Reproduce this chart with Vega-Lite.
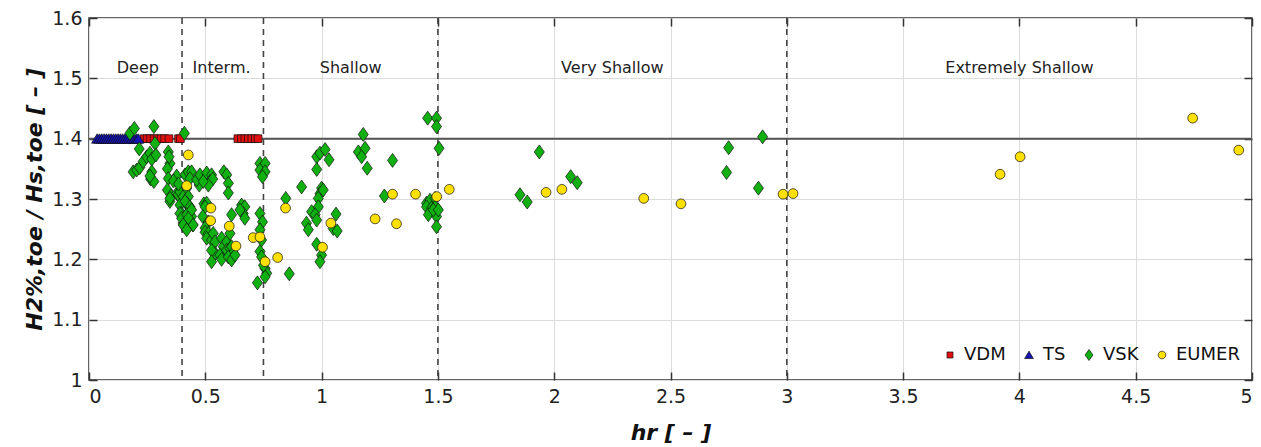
{
  "$schema": "https://vega.github.io/schema/vega-lite/v6.json",
  "width": 1163,
  "height": 362,
  "autosize": {"type": "none"},
  "padding": {"left": 89, "top": 18, "right": 9, "bottom": 67},
  "background": "white",
  "config": {
    "font": "DejaVu Sans",
    "view": {"stroke": "#333", "strokeWidth": 1.5}
  },
  "datasets": {
    "pts": [
      {"x":0.236,"y":1.4,"s":"VDM"},{"x":0.25,"y":1.4,"s":"VDM"},{"x":0.265,"y":1.4,"s":"VDM"},{"x":0.28,"y":1.4,"s":"VDM"},{"x":0.295,"y":1.4,"s":"VDM"},{"x":0.31,"y":1.4,"s":"VDM"},{"x":0.325,"y":1.4,"s":"VDM"},{"x":0.344,"y":1.4,"s":"VDM"},{"x":0.385,"y":1.4,"s":"VDM"},{"x":0.393,"y":1.4,"s":"VDM"},{"x":0.64,"y":1.4,"s":"VDM"},{"x":0.655,"y":1.4,"s":"VDM"},{"x":0.67,"y":1.4,"s":"VDM"},{"x":0.685,"y":1.4,"s":"VDM"},{"x":0.7,"y":1.4,"s":"VDM"},{"x":0.715,"y":1.4,"s":"VDM"},{"x":0.727,"y":1.4,"s":"VDM"},
      {"x":0.035,"y":1.4,"s":"TS"},{"x":0.045,"y":1.4,"s":"TS"},{"x":0.055,"y":1.4,"s":"TS"},{"x":0.065,"y":1.4,"s":"TS"},{"x":0.075,"y":1.4,"s":"TS"},{"x":0.085,"y":1.4,"s":"TS"},{"x":0.095,"y":1.4,"s":"TS"},{"x":0.105,"y":1.4,"s":"TS"},{"x":0.115,"y":1.4,"s":"TS"},{"x":0.125,"y":1.4,"s":"TS"},{"x":0.135,"y":1.4,"s":"TS"},{"x":0.145,"y":1.4,"s":"TS"},{"x":0.155,"y":1.4,"s":"TS"},{"x":0.165,"y":1.4,"s":"TS"},{"x":0.175,"y":1.4,"s":"TS"},{"x":0.185,"y":1.4,"s":"TS"},{"x":0.195,"y":1.4,"s":"TS"},{"x":0.205,"y":1.4,"s":"TS"},{"x":0.212,"y":1.4,"s":"TS"},
      {"x":0.176,"y":1.409,"s":"VSK"},{"x":0.195,"y":1.417,"s":"VSK"},{"x":0.279,"y":1.42,"s":"VSK"},{"x":0.216,"y":1.383,"s":"VSK"},{"x":0.19,"y":1.345,"s":"VSK"},{"x":0.205,"y":1.348,"s":"VSK"},{"x":0.218,"y":1.352,"s":"VSK"},{"x":0.233,"y":1.362,"s":"VSK"},{"x":0.248,"y":1.37,"s":"VSK"},{"x":0.262,"y":1.376,"s":"VSK"},{"x":0.27,"y":1.366,"s":"VSK"},{"x":0.284,"y":1.392,"s":"VSK"},{"x":0.288,"y":1.373,"s":"VSK"},{"x":0.27,"y":1.345,"s":"VSK"},{"x":0.265,"y":1.333,"s":"VSK"},{"x":0.279,"y":1.329,"s":"VSK"},{"x":0.262,"y":1.338,"s":"VSK"},{"x":0.341,"y":1.378,"s":"VSK"},{"x":0.348,"y":1.359,"s":"VSK"},{"x":0.344,"y":1.37,"s":"VSK"},{"x":0.337,"y":1.35,"s":"VSK"},{"x":0.341,"y":1.334,"s":"VSK"},{"x":0.337,"y":1.315,"s":"VSK"},{"x":0.348,"y":1.296,"s":"VSK"},{"x":0.353,"y":1.305,"s":"VSK"},{"x":0.377,"y":1.338,"s":"VSK"},{"x":0.377,"y":1.309,"s":"VSK"},{"x":0.384,"y":1.307,"s":"VSK"},{"x":0.391,"y":1.29,"s":"VSK"},{"x":0.398,"y":1.276,"s":"VSK"},{"x":0.391,"y":1.276,"s":"VSK"},{"x":0.405,"y":1.26,"s":"VSK"},{"x":0.413,"y":1.254,"s":"VSK"},{"x":0.391,"y":1.312,"s":"VSK"},{"x":0.405,"y":1.304,"s":"VSK"},{"x":0.398,"y":1.268,"s":"VSK"},{"x":0.348,"y":1.301,"s":"VSK"},{"x":0.41,"y":1.409,"s":"VSK"},{"x":0.363,"y":1.33,"s":"VSK"},{"x":0.385,"y":1.325,"s":"VSK"},
      {"x":0.413,"y":1.34,"s":"VSK"},{"x":0.427,"y":1.345,"s":"VSK"},{"x":0.441,"y":1.345,"s":"VSK"},{"x":0.434,"y":1.334,"s":"VSK"},{"x":0.42,"y":1.318,"s":"VSK"},{"x":0.427,"y":1.304,"s":"VSK"},{"x":0.434,"y":1.285,"s":"VSK"},{"x":0.441,"y":1.271,"s":"VSK"},{"x":0.446,"y":1.257,"s":"VSK"},{"x":0.42,"y":1.293,"s":"VSK"},{"x":0.413,"y":1.296,"s":"VSK"},{"x":0.434,"y":1.287,"s":"VSK"},{"x":0.42,"y":1.274,"s":"VSK"},{"x":0.441,"y":1.282,"s":"VSK"},{"x":0.427,"y":1.268,"s":"VSK"},{"x":0.448,"y":1.257,"s":"VSK"},{"x":0.405,"y":1.257,"s":"VSK"},{"x":0.42,"y":1.249,"s":"VSK"},{"x":0.474,"y":1.323,"s":"VSK"},{"x":0.463,"y":1.332,"s":"VSK"},{"x":0.477,"y":1.34,"s":"VSK"},{"x":0.506,"y":1.343,"s":"VSK"},{"x":0.527,"y":1.34,"s":"VSK"},{"x":0.52,"y":1.329,"s":"VSK"},{"x":0.532,"y":1.333,"s":"VSK"},{"x":0.513,"y":1.323,"s":"VSK"},{"x":0.491,"y":1.329,"s":"VSK"},{"x":0.494,"y":1.292,"s":"VSK"},{"x":0.506,"y":1.293,"s":"VSK"},{"x":0.499,"y":1.287,"s":"VSK"},{"x":0.489,"y":1.271,"s":"VSK"},{"x":0.513,"y":1.262,"s":"VSK"},{"x":0.499,"y":1.252,"s":"VSK"},{"x":0.499,"y":1.245,"s":"VSK"},{"x":0.513,"y":1.243,"s":"VSK"},{"x":0.506,"y":1.235,"s":"VSK"},{"x":0.527,"y":1.232,"s":"VSK"},{"x":0.534,"y":1.243,"s":"VSK"},{"x":0.542,"y":1.229,"s":"VSK"},{"x":0.542,"y":1.21,"s":"VSK"},{"x":0.527,"y":1.215,"s":"VSK"},{"x":0.527,"y":1.196,"s":"VSK"},{"x":0.57,"y":1.235,"s":"VSK"},{"x":0.577,"y":1.221,"s":"VSK"},{"x":0.563,"y":1.207,"s":"VSK"},{"x":0.57,"y":1.2,"s":"VSK"},{"x":0.592,"y":1.229,"s":"VSK"},{"x":0.592,"y":1.215,"s":"VSK"},{"x":0.606,"y":1.218,"s":"VSK"},{"x":0.613,"y":1.221,"s":"VSK"},{"x":0.62,"y":1.21,"s":"VSK"},{"x":0.599,"y":1.204,"s":"VSK"},{"x":0.613,"y":1.199,"s":"VSK"},{"x":0.628,"y":1.207,"s":"VSK"},{"x":0.58,"y":1.345,"s":"VSK"},{"x":0.592,"y":1.34,"s":"VSK"},{"x":0.599,"y":1.326,"s":"VSK"},{"x":0.599,"y":1.31,"s":"VSK"},{"x":0.613,"y":1.274,"s":"VSK"},{"x":0.606,"y":1.243,"s":"VSK"},{"x":0.656,"y":1.29,"s":"VSK"},{"x":0.67,"y":1.287,"s":"VSK"},{"x":0.663,"y":1.276,"s":"VSK"},{"x":0.649,"y":1.282,"s":"VSK"},{"x":0.67,"y":1.268,"s":"VSK"},
      {"x":0.735,"y":1.359,"s":"VSK"},{"x":0.757,"y":1.359,"s":"VSK"},{"x":0.735,"y":1.348,"s":"VSK"},{"x":0.757,"y":1.345,"s":"VSK"},{"x":0.746,"y":1.337,"s":"VSK"},{"x":0.735,"y":1.276,"s":"VSK"},{"x":0.746,"y":1.262,"s":"VSK"},{"x":0.735,"y":1.249,"s":"VSK"},{"x":0.742,"y":1.232,"s":"VSK"},{"x":0.735,"y":1.213,"s":"VSK"},{"x":0.742,"y":1.204,"s":"VSK"},{"x":0.757,"y":1.185,"s":"VSK"},{"x":0.764,"y":1.177,"s":"VSK"},{"x":0.757,"y":1.171,"s":"VSK"},{"x":0.724,"y":1.161,"s":"VSK"},{"x":0.75,"y":1.19,"s":"VSK"},
      {"x":0.846,"y":1.301,"s":"VSK"},{"x":0.914,"y":1.32,"s":"VSK"},{"x":0.861,"y":1.176,"s":"VSK"},{"x":0.979,"y":1.37,"s":"VSK"},{"x":0.993,"y":1.376,"s":"VSK"},{"x":1.015,"y":1.382,"s":"VSK"},{"x":1.032,"y":1.365,"s":"VSK"},{"x":0.979,"y":1.349,"s":"VSK"},{"x":1.0,"y":1.318,"s":"VSK"},{"x":0.993,"y":1.309,"s":"VSK"},{"x":0.986,"y":1.301,"s":"VSK"},{"x":1.007,"y":1.315,"s":"VSK"},{"x":0.986,"y":1.287,"s":"VSK"},{"x":0.957,"y":1.279,"s":"VSK"},{"x":0.972,"y":1.274,"s":"VSK"},{"x":0.979,"y":1.265,"s":"VSK"},{"x":0.935,"y":1.26,"s":"VSK"},{"x":0.943,"y":1.249,"s":"VSK"},{"x":1.062,"y":1.275,"s":"VSK"},{"x":1.05,"y":1.251,"s":"VSK"},{"x":1.067,"y":1.247,"s":"VSK"},{"x":0.979,"y":1.225,"s":"VSK"},{"x":1.0,"y":1.207,"s":"VSK"},{"x":0.993,"y":1.196,"s":"VSK"},{"x":1.179,"y":1.407,"s":"VSK"},{"x":1.158,"y":1.378,"s":"VSK"},{"x":1.187,"y":1.384,"s":"VSK"},{"x":1.172,"y":1.37,"s":"VSK"},{"x":1.196,"y":1.351,"s":"VSK"},{"x":1.305,"y":1.364,"s":"VSK"},{"x":1.27,"y":1.305,"s":"VSK"},{"x":1.456,"y":1.434,"s":"VSK"},{"x":1.494,"y":1.434,"s":"VSK"},{"x":1.494,"y":1.42,"s":"VSK"},{"x":1.505,"y":1.384,"s":"VSK"},{"x":1.451,"y":1.293,"s":"VSK"},{"x":1.466,"y":1.298,"s":"VSK"},{"x":1.488,"y":1.301,"s":"VSK"},{"x":1.451,"y":1.287,"s":"VSK"},{"x":1.473,"y":1.285,"s":"VSK"},{"x":1.488,"y":1.287,"s":"VSK"},{"x":1.459,"y":1.274,"s":"VSK"},{"x":1.494,"y":1.271,"s":"VSK"},{"x":1.494,"y":1.254,"s":"VSK"},{"x":1.48,"y":1.282,"s":"VSK"},{"x":1.502,"y":1.282,"s":"VSK"},
      {"x":1.936,"y":1.378,"s":"VSK"},{"x":1.853,"y":1.307,"s":"VSK"},{"x":1.884,"y":1.295,"s":"VSK"},{"x":2.071,"y":1.337,"s":"VSK"},{"x":2.099,"y":1.327,"s":"VSK"},{"x":2.75,"y":1.385,"s":"VSK"},{"x":2.741,"y":1.344,"s":"VSK"},{"x":2.896,"y":1.403,"s":"VSK"},{"x":2.878,"y":1.318,"s":"VSK"},
      {"x":0.427,"y":1.373,"s":"EUMER"},{"x":0.42,"y":1.322,"s":"EUMER"},{"x":0.524,"y":1.285,"s":"EUMER"},{"x":0.523,"y":1.264,"s":"EUMER"},{"x":0.603,"y":1.255,"s":"EUMER"},{"x":0.632,"y":1.222,"s":"EUMER"},{"x":0.706,"y":1.236,"s":"EUMER"},{"x":0.735,"y":1.237,"s":"EUMER"},{"x":0.757,"y":1.196,"s":"EUMER"},{"x":0.811,"y":1.203,"s":"EUMER"},{"x":0.845,"y":1.285,"s":"EUMER"},{"x":1.04,"y":1.26,"s":"EUMER"},{"x":1.004,"y":1.22,"s":"EUMER"},{"x":1.23,"y":1.267,"s":"EUMER"},{"x":1.305,"y":1.308,"s":"EUMER"},{"x":1.322,"y":1.259,"s":"EUMER"},{"x":1.404,"y":1.308,"s":"EUMER"},{"x":1.495,"y":1.304,"s":"EUMER"},{"x":1.549,"y":1.316,"s":"EUMER"},{"x":1.965,"y":1.311,"s":"EUMER"},{"x":2.033,"y":1.316,"s":"EUMER"},{"x":2.385,"y":1.301,"s":"EUMER"},{"x":2.545,"y":1.292,"s":"EUMER"},{"x":2.984,"y":1.308,"s":"EUMER"},{"x":3.027,"y":1.309,"s":"EUMER"},{"x":3.917,"y":1.341,"s":"EUMER"},{"x":4.003,"y":1.37,"s":"EUMER"},{"x":4.745,"y":1.434,"s":"EUMER"},{"x":4.943,"y":1.381,"s":"EUMER"}
    ],
    "vlines": [{"x": 0.4}, {"x": 0.75}, {"x": 1.5}, {"x": 3}],
    "hline": [{"y": 1.4}],
    "zones": [
      {"x": 0.21, "y": 1.517, "t": "Deep"},
      {"x": 0.57, "y": 1.517, "t": "Interm."},
      {"x": 1.125, "y": 1.517, "t": "Shallow"},
      {"x": 2.25, "y": 1.517, "t": "Very Shallow"},
      {"x": 4.0, "y": 1.517, "t": "Extremely Shallow"}
    ]
  },
  "resolve": {"axis": {"x": "independent", "y": "independent"}},
  "layer": [
    {
      "data": {"name": "vlines"},
      "mark": {"type": "rule", "color": "#444", "strokeWidth": 1.6, "strokeDash": [6, 5]},
      "encoding": {
        "x": {"field": "x", "type": "quantitative", "axis": null}
      }
    },
    {
      "data": {"name": "hline"},
      "mark": {"type": "rule", "color": "#555", "strokeWidth": 2},
      "encoding": {
        "y": {"field": "y", "type": "quantitative", "axis": null}
      }
    },
    {
      "data": {"name": "zones"},
      "mark": {"type": "text", "fontSize": 16, "color": "#222", "align": "center", "baseline": "middle"},
      "encoding": {
        "x": {"field": "x", "type": "quantitative",
          "axis": {"orient": "top", "values": [0, 0.5, 1, 1.5, 2, 2.5, 3, 3.5, 4, 4.5, 5], "labels": false, "title": null, "grid": false, "domain": false, "tickSize": -8, "tickColor": "#333", "tickWidth": 1.5}},
        "y": {"field": "y", "type": "quantitative",
          "axis": {"orient": "right", "values": [1, 1.1, 1.2, 1.3, 1.4, 1.5, 1.6], "labels": false, "title": null, "grid": false, "domain": false, "tickSize": -8, "tickColor": "#333", "tickWidth": 1.5}},
        "text": {"field": "t", "type": "nominal"}
      }
    },
    {
      "data": {"name": "pts"},
      "mark": {"type": "point", "filled": true, "opacity": 1, "size": 196, "stroke": "#111", "strokeWidth": 0.7},
      "encoding": {
        "x": {
          "field": "x", "type": "quantitative",
          "scale": {"domain": [0, 5], "nice": false, "zero": false},
          "axis": {
            "values": [0, 0.5, 1, 1.5, 2, 2.5, 3, 3.5, 4, 4.5, 5],
            "format": "~g",
            "title": "hr [ – ]",
            "titleFontSize": 22, "titleFontWeight": "bold", "titleFontStyle": "italic", "titleColor": "#111",
            "titlePadding": 16,
            "labelFontSize": 19, "labelColor": "#222", "labelPadding": 15,
            "tickSize": -8, "tickColor": "#333", "tickWidth": 1.5,
            "domain": false,
            "grid": true, "gridColor": "#dcdcdc", "gridWidth": 1
          }
        },
        "y": {
          "field": "y", "type": "quantitative",
          "scale": {"domain": [1, 1.6], "nice": false, "zero": false},
          "axis": {
            "values": [1, 1.1, 1.2, 1.3, 1.4, 1.5, 1.6],
            "format": "~g",
            "title": "H2%,toe / Hs,toe [ – ]",
            "titleFontSize": 22, "titleFontWeight": "bold", "titleFontStyle": "italic", "titleColor": "#111",
            "titlePadding": 5,
            "labelFontSize": 19, "labelColor": "#222", "labelPadding": 15,
            "tickSize": -8, "tickColor": "#333", "tickWidth": 1.5,
            "domain": false,
            "grid": true, "gridColor": "#dcdcdc", "gridWidth": 1
          }
        },
        "color": {
          "field": "s", "type": "nominal",
          "scale": {"domain": ["VDM", "TS", "VSK", "EUMER"], "range": ["#e01010", "#1414b4", "#10b010", "#ffe000"]},
          "legend": {
            "title": null, "orient": "none", "direction": "horizontal",
            "legendX": 852, "legendY": 328, "padding": 0,
            "labelFontSize": 18, "labelColor": "#111", "labelOffset": 5,
            "columnPadding": 14, "symbolSize": 120,
            "symbolStrokeColor": "#111", "symbolStrokeWidth": 0.7
          }
        },
        "shape": {
          "field": "s", "type": "nominal",
          "scale": {"domain": ["VDM", "TS", "VSK", "EUMER"], "range": [
            "M-0.55,-0.55L0.55,-0.55L0.55,0.55L-0.55,0.55Z",
            "M0,-0.7L0.8,0.65L-0.8,0.65Z",
            "M0,-1L0.72,0L0,1L-0.72,0Z",
            "M-0.7,0A0.7,0.7,0,1,1,0.7,0A0.7,0.7,0,1,1,-0.7,0Z"
          ]},
          "legend": null
        }
      }
    }
  ]
}
